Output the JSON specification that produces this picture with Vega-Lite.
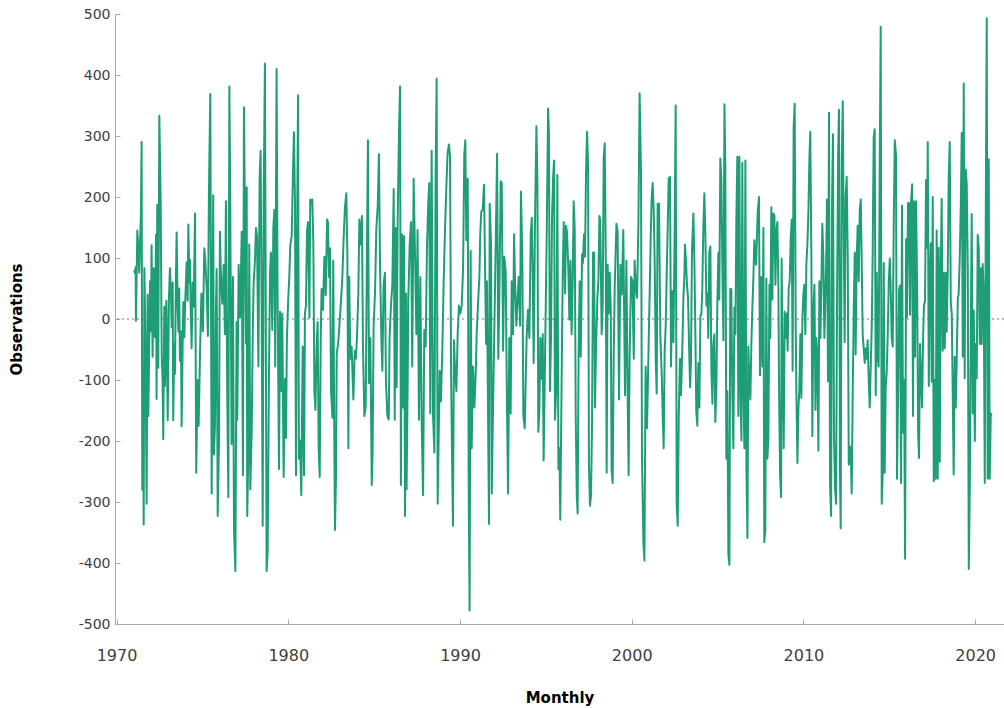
{
"$schema": "https://vega.github.io/schema/vega-lite/v6.json",
"width": 889, "height": 610,
"autosize": {"type": "none"},
"padding": {"left": 115, "top": 14, "right": 0, "bottom": 84},
"background": "white",
"config": {"view": {"stroke": null}, "axis": {"grid": false, "domainColor": "#aaaaaa", "tickColor": "#aaaaaa", "labelFont": "DejaVu Sans", "titleFont": "DejaVu Sans", "labelColor": "#404040", "titleColor": "#000000"}},
"datasets": {"obs": [
{"t":1971.03,"v":80},{"t":1971.07,"v":75},{"t":1971.11,"v":85},{"t":1971.13,"v":-3},{"t":1971.21,"v":145},{"t":1971.27,"v":117},{"t":1971.32,"v":76},{"t":1971.42,"v":173},{"t":1971.46,"v":290},{"t":1971.50,"v":-280},{"t":1971.54,"v":-100},{"t":1971.58,"v":-337},{"t":1971.62,"v":83},{"t":1971.69,"v":-50},{"t":1971.75,"v":-303},{"t":1971.81,"v":40},{"t":1971.85,"v":-159},{"t":1971.95,"v":62},{"t":1972.00,"v":-20},{"t":1972.04,"v":121},{"t":1972.10,"v":-62},{"t":1972.16,"v":83},{"t":1972.24,"v":-30},{"t":1972.30,"v":138},{"t":1972.33,"v":-131},{"t":1972.37,"v":187},{"t":1972.43,"v":-80},{"t":1972.49,"v":333},{"t":1972.57,"v":193},{"t":1972.63,"v":-60},{"t":1972.68,"v":-100},{"t":1972.72,"v":-197},{"t":1972.78,"v":20},{"t":1972.82,"v":-110},{"t":1972.90,"v":30},{"t":1972.98,"v":-166},{"t":1973.05,"v":35},{"t":1973.11,"v":83},{"t":1973.17,"v":40},{"t":1973.21,"v":-14},{"t":1973.27,"v":60},{"t":1973.30,"v":-166},{"t":1973.36,"v":-40},{"t":1973.40,"v":-90},{"t":1973.46,"v":70},{"t":1973.50,"v":142},{"t":1973.56,"v":20},{"t":1973.60,"v":-21},{"t":1973.65,"v":50},{"t":1973.69,"v":-69},{"t":1973.75,"v":-20},{"t":1973.79,"v":-176},{"t":1973.85,"v":-40},{"t":1973.89,"v":28},{"t":1973.95,"v":-30},{"t":1973.98,"v":14},{"t":1974.04,"v":60},{"t":1974.08,"v":93},{"t":1974.14,"v":30},{"t":1974.18,"v":155},{"t":1974.24,"v":60},{"t":1974.28,"v":97},{"t":1974.31,"v":28},{"t":1974.37,"v":-48},{"t":1974.43,"v":60},{"t":1974.49,"v":20},
{"t":1974.57,"v":173},{"t":1974.64,"v":-252},{"t":1974.72,"v":-100},{"t":1974.78,"v":-175},{"t":1974.86,"v":-58},{"t":1974.94,"v":42},{"t":1975.03,"v":-20},{"t":1975.11,"v":116},{"t":1975.17,"v":96},{"t":1975.25,"v":49},{"t":1975.32,"v":-28},{"t":1975.38,"v":209},{"t":1975.46,"v":369},{"t":1975.54,"v":-286},{"t":1975.60,"v":50},{"t":1975.63,"v":203},{"t":1975.67,"v":-222},{"t":1975.73,"v":-175},{"t":1975.79,"v":20},{"t":1975.83,"v":82},{"t":1975.89,"v":-323},{"t":1975.97,"v":-195},{"t":1976.02,"v":143},{"t":1976.08,"v":69},{"t":1976.16,"v":25},{"t":1976.24,"v":89},{"t":1976.31,"v":-25},{"t":1976.37,"v":193},{"t":1976.45,"v":-135},{"t":1976.51,"v":-292},{"t":1976.57,"v":381},{"t":1976.62,"v":196},{"t":1976.70,"v":-205},{"t":1976.78,"v":69},{"t":1976.84,"v":-346},{"t":1976.92,"v":-413},{"t":1976.99,"v":-5},{"t":1977.03,"v":-165},{"t":1977.11,"v":89},{"t":1977.19,"v":2},{"t":1977.29,"v":143},{"t":1977.36,"v":-256},{"t":1977.42,"v":347},{"t":1977.48,"v":156},{"t":1977.54,"v":-40},{"t":1977.58,"v":216},{"t":1977.61,"v":-323},{"t":1977.67,"v":-229},{"t":1977.73,"v":122},{"t":1977.79,"v":-279},{"t":1977.87,"v":-185},{"t":1977.93,"v":-28},{"t":1977.98,"v":56},{"t":1978.06,"v":96},{"t":1978.12,"v":149},{"t":1978.18,"v":136},{"t":1978.26,"v":-78},{"t":1978.33,"v":226},{"t":1978.39,"v":276},{"t":1978.45,"v":19},{"t":1978.51,"v":-339},{"t":1978.57,"v":203},
{"t":1978.64,"v":419},{"t":1978.74,"v":-413},{"t":1978.80,"v":-380},{"t":1978.88,"v":-78},{"t":1978.94,"v":76},{"t":1978.99,"v":109},{"t":1979.07,"v":-18},{"t":1979.13,"v":149},{"t":1979.19,"v":179},{"t":1979.24,"v":-78},{"t":1979.32,"v":410},{"t":1979.38,"v":29},{"t":1979.46,"v":-246},{"t":1979.52,"v":12},{"t":1979.60,"v":-118},{"t":1979.65,"v":9},{"t":1979.73,"v":-259},{"t":1979.81,"v":-98},{"t":1979.87,"v":-195},{"t":1979.92,"v":-31},{"t":1980.00,"v":35},{"t":1980.06,"v":69},{"t":1980.12,"v":122},{"t":1980.20,"v":136},{"t":1980.27,"v":236},{"t":1980.33,"v":306},{"t":1980.39,"v":196},{"t":1980.45,"v":-256},{"t":1980.51,"v":132},{"t":1980.57,"v":367},{"t":1980.62,"v":-229},{"t":1980.68,"v":-199},{"t":1980.76,"v":-289},{"t":1980.84,"v":-45},{"t":1980.92,"v":-256},{"t":1980.97,"v":9},{"t":1981.03,"v":22},{"t":1981.09,"v":143},{"t":1981.15,"v":159},{"t":1981.23,"v":2},{"t":1981.28,"v":196},{"t":1981.34,"v":189},{"t":1981.40,"v":196},{"t":1981.46,"v":122},{"t":1981.52,"v":-118},{"t":1981.58,"v":-149},{"t":1981.65,"v":-45},{"t":1981.71,"v":-5},{"t":1981.77,"v":-212},{"t":1981.83,"v":-259},{"t":1981.89,"v":-31},{"t":1981.94,"v":49},{"t":1982.02,"v":15},{"t":1982.10,"v":102},{"t":1982.18,"v":39},{"t":1982.26,"v":163},{"t":1982.31,"v":159},{"t":1982.37,"v":69},{"t":1982.43,"v":116},{"t":1982.49,"v":-118},{"t":1982.57,"v":-162},{"t":1982.62,"v":96},{"t":1982.68,"v":-192},
{"t":1982.72,"v":-346},{"t":1982.78,"v":-256},{"t":1982.82,"v":-58},{"t":1982.91,"v":-38},{"t":1982.99,"v":-5},{"t":1983.07,"v":29},{"t":1983.15,"v":69},{"t":1983.22,"v":129},{"t":1983.30,"v":183},{"t":1983.38,"v":206},{"t":1983.44,"v":109},{"t":1983.50,"v":-212},{"t":1983.55,"v":69},{"t":1983.61,"v":-65},{"t":1983.69,"v":-45},{"t":1983.79,"v":-132},{"t":1983.87,"v":-52},{"t":1983.94,"v":-65},{"t":1984.00,"v":-31},{"t":1984.08,"v":42},{"t":1984.14,"v":163},{"t":1984.22,"v":122},{"t":1984.29,"v":169},{"t":1984.35,"v":-45},{"t":1984.43,"v":-159},{"t":1984.51,"v":-145},{"t":1984.58,"v":109},{"t":1984.64,"v":293},{"t":1984.70,"v":-105},{"t":1984.78,"v":-31},{"t":1984.86,"v":-272},{"t":1984.91,"v":-219},{"t":1984.97,"v":-11},{"t":1985.05,"v":42},{"t":1985.13,"v":149},{"t":1985.21,"v":186},{"t":1985.28,"v":270},{"t":1985.34,"v":96},{"t":1985.42,"v":-31},{"t":1985.48,"v":-85},{"t":1985.55,"v":56},{"t":1985.63,"v":76},{"t":1985.69,"v":-105},{"t":1985.77,"v":-159},{"t":1985.85,"v":-165},{"t":1985.90,"v":-31},{"t":1985.98,"v":22},{"t":1986.06,"v":56},{"t":1986.14,"v":213},{"t":1986.20,"v":-165},{"t":1986.25,"v":149},{"t":1986.31,"v":-112},{"t":1986.37,"v":159},{"t":1986.45,"v":310},{"t":1986.51,"v":381},{"t":1986.56,"v":-272},{"t":1986.62,"v":139},{"t":1986.68,"v":-145},{"t":1986.74,"v":136},
{"t":1986.80,"v":-323},{"t":1986.86,"v":42},{"t":1986.89,"v":-279},{"t":1986.95,"v":-112},{"t":1986.99,"v":29},{"t":1987.07,"v":122},{"t":1987.15,"v":159},{"t":1987.22,"v":-78},{"t":1987.30,"v":230},{"t":1987.38,"v":109},{"t":1987.46,"v":-25},{"t":1987.53,"v":146},{"t":1987.61,"v":-165},{"t":1987.69,"v":69},{"t":1987.77,"v":-172},{"t":1987.85,"v":-289},{"t":1987.92,"v":-18},{"t":1988.00,"v":-45},{"t":1988.08,"v":122},{"t":1988.16,"v":196},{"t":1988.21,"v":223},{"t":1988.27,"v":-155},{"t":1988.35,"v":276},{"t":1988.43,"v":-159},{"t":1988.51,"v":-219},{"t":1988.58,"v":233},{"t":1988.64,"v":394},{"t":1988.70,"v":-303},{"t":1988.76,"v":-192},{"t":1988.82,"v":-85},{"t":1988.89,"v":-135},{"t":1988.97,"v":-52},{"t":1989.05,"v":62},{"t":1989.13,"v":149},{"t":1989.21,"v":220},{"t":1989.28,"v":273},{"t":1989.36,"v":286},{"t":1989.42,"v":266},{"t":1989.48,"v":-85},{"t":1989.535,"v":-219},{"t":1989.59,"v":-339},{"t":1989.65,"v":-35},{"t":1989.71,"v":-82},{"t":1989.79,"v":-118},{"t":1989.865,"v":-25},{"t":1989.94,"v":22},{"t":1990.02,"v":9},{"t":1990.10,"v":22},{"t":1990.18,"v":82},{"t":1990.25,"v":270},{"t":1990.31,"v":293},{"t":1990.37,"v":129},{"t":1990.45,"v":230},{"t":1990.51,"v":-292},{"t":1990.56,"v":-478},{"t":1990.62,"v":112},{"t":1990.68,"v":-212},{"t":1990.76,"v":-78},{"t":1990.84,"v":-145},
{"t":1990.93,"v":-78},{"t":1990.97,"v":-25},{"t":1991.05,"v":25},{"t":1991.13,"v":69},{"t":1991.18,"v":139},{"t":1991.24,"v":176},{"t":1991.32,"v":179},{"t":1991.40,"v":220},{"t":1991.46,"v":82},{"t":1991.52,"v":-41},{"t":1991.57,"v":62},{"t":1991.65,"v":-212},{"t":1991.69,"v":-336},{"t":1991.73,"v":189},{"t":1991.81,"v":122},{"t":1991.85,"v":-286},{"t":1991.92,"v":-152},{"t":1992.00,"v":-18},{"t":1992.08,"v":122},{"t":1992.16,"v":271},{"t":1992.23,"v":-65},{"t":1992.29,"v":35},{"t":1992.37,"v":226},{"t":1992.43,"v":223},{"t":1992.51,"v":-52},{"t":1992.58,"v":102},{"t":1992.66,"v":79},{"t":1992.74,"v":-152},{"t":1992.80,"v":-286},{"t":1992.87,"v":-31},{"t":1992.95,"v":-155},{"t":1993.01,"v":62},{"t":1993.09,"v":-25},{"t":1993.15,"v":139},{"t":1993.20,"v":69},{"t":1993.28,"v":-11},{"t":1993.36,"v":35},{"t":1993.42,"v":69},{"t":1993.50,"v":-11},{"t":1993.55,"v":209},{"t":1993.63,"v":102},{"t":1993.69,"v":-159},{"t":1993.77,"v":-179},{"t":1993.83,"v":-98},{"t":1993.88,"v":-31},{"t":1993.96,"v":15},{"t":1994.04,"v":-31},{"t":1994.12,"v":139},{"t":1994.18,"v":166},{"t":1994.23,"v":86},{"t":1994.29,"v":-72},{"t":1994.37,"v":163},{"t":1994.45,"v":316},{"t":1994.51,"v":223},{"t":1994.56,"v":-185},{"t":1994.62,"v":-152},{"t":1994.68,"v":-31},{"t":1994.74,"v":-98},{"t":1994.82,"v":-25},{"t":1994.87,"v":-232},
{"t":1995.05,"v":136},{"t":1995.13,"v":345},{"t":1995.18,"v":303},{"t":1995.24,"v":-118},{"t":1995.30,"v":-31},{"t":1995.36,"v":166},{"t":1995.42,"v":230},{"t":1995.48,"v":260},{"t":1995.53,"v":-165},{"t":1995.61,"v":-112},{"t":1995.67,"v":236},{"t":1995.73,"v":-246},{"t":1995.79,"v":-212},{"t":1995.84,"v":-329},{"t":1995.92,"v":-95},{"t":1995.98,"v":69},{"t":1996.04,"v":159},{"t":1996.12,"v":42},{"t":1996.17,"v":153},{"t":1996.23,"v":143},{"t":1996.31,"v":82},{"t":1996.37,"v":-1},{"t":1996.43,"v":96},{"t":1996.50,"v":-25},{"t":1996.56,"v":56},{"t":1996.62,"v":193},{"t":1996.68,"v":149},{"t":1996.74,"v":-159},{"t":1996.80,"v":-289},{"t":1996.85,"v":-319},{"t":1996.91,"v":-52},{"t":1996.97,"v":62},{"t":1997.03,"v":-62},{"t":1997.11,"v":106},{"t":1997.16,"v":92},{"t":1997.22,"v":139},{"t":1997.28,"v":102},{"t":1997.34,"v":240},{"t":1997.40,"v":307},{"t":1997.46,"v":250},{"t":1997.51,"v":-239},{"t":1997.57,"v":-306},{"t":1997.63,"v":-289},{"t":1997.69,"v":-172},{"t":1997.75,"v":109},{"t":1997.81,"v":109},{"t":1997.86,"v":-145},{"t":1997.92,"v":-52},{"t":1998.00,"v":35},{"t":1998.06,"v":62},{"t":1998.12,"v":169},{"t":1998.17,"v":159},{"t":1998.25,"v":-25},{"t":1998.31,"v":22},{"t":1998.37,"v":266},{"t":1998.43,"v":288},{"t":1998.49,"v":96},{"t":1998.54,"v":-252},{"t":1998.60,"v":89},{"t":1998.66,"v":9},{"t":1998.72,"v":76},{"t":1998.78,"v":15},{"t":1998.83,"v":-246},{"t":1998.89,"v":-269},{"t":1998.95,"v":-65},{"t":1999.01,"v":52},
{"t":1999.11,"v":156},{"t":1999.18,"v":143},{"t":1999.26,"v":-132},{"t":1999.34,"v":89},{"t":1999.42,"v":40},{"t":1999.51,"v":146},{"t":1999.61,"v":-125},{"t":1999.69,"v":96},{"t":1999.77,"v":-145},{"t":1999.82,"v":-256},{"t":1999.88,"v":-58},{"t":1999.96,"v":69},{"t":2000.04,"v":62},{"t":2000.12,"v":-65},{"t":2000.17,"v":96},{"t":2000.23,"v":56},{"t":2000.31,"v":35},{"t":2000.39,"v":156},{"t":2000.46,"v":370},{"t":2000.54,"v":240},{"t":2000.60,"v":-229},{"t":2000.68,"v":-366},{"t":2000.74,"v":-396},{"t":2000.81,"v":-78},{"t":2000.89,"v":-179},{"t":2000.97,"v":-65},{"t":2001.05,"v":49},{"t":2001.11,"v":139},{"t":2001.16,"v":196},{"t":2001.22,"v":223},{"t":2001.28,"v":179},{"t":2001.34,"v":89},{"t":2001.40,"v":-68},{"t":2001.455,"v":-122},{"t":2001.51,"v":189},{"t":2001.59,"v":189},{"t":2001.67,"v":-31},{"t":2001.75,"v":-92},{"t":2001.80,"v":-152},{"t":2001.86,"v":-212},{"t":2001.92,"v":-52},{"t":2001.98,"v":-11},{"t":2002.04,"v":76},{"t":2002.10,"v":156},{"t":2002.155,"v":230},{"t":2002.23,"v":233},{"t":2002.29,"v":-78},{"t":2002.35,"v":46},{"t":2002.43,"v":-38},{"t":2002.50,"v":139},{"t":2002.56,"v":350},{"t":2002.62,"v":-306},{"t":2002.68,"v":-339},{"t":2002.74,"v":-159},{"t":2002.81,"v":-65},{"t":2002.87,"v":-125},{"t":2002.95,"v":-45},{"t":2003.01,"v":35},{"t":2003.07,"v":72},
{"t":2003.10,"v":122},{"t":2003.16,"v":96},{"t":2003.22,"v":56},{"t":2003.28,"v":35},{"t":2003.34,"v":-45},{"t":2003.40,"v":-112},{"t":2003.45,"v":-72},{"t":2003.51,"v":112},{"t":2003.59,"v":173},{"t":2003.65,"v":96},{"t":2003.71,"v":-28},{"t":2003.76,"v":-152},{"t":2003.82,"v":-175},{"t":2003.88,"v":-72},{"t":2003.94,"v":-145},{"t":2004.00,"v":5},{"t":2004.06,"v":9},{"t":2004.11,"v":49},{"t":2004.17,"v":149},{"t":2004.23,"v":206},{"t":2004.29,"v":136},{"t":2004.35,"v":22},{"t":2004.41,"v":42},{"t":2004.46,"v":-31},{"t":2004.52,"v":109},{"t":2004.58,"v":119},{"t":2004.64,"v":-85},{"t":2004.70,"v":-139},{"t":2004.75,"v":-45},{"t":2004.81,"v":-25},{"t":2004.87,"v":-169},{"t":2004.93,"v":-112},{"t":2004.99,"v":32},{"t":2005.05,"v":109},{"t":2005.10,"v":32},{"t":2005.16,"v":263},{"t":2005.22,"v":230},{"t":2005.28,"v":82},{"t":2005.34,"v":-35},{"t":2005.40,"v":352},{"t":2005.45,"v":250},{"t":2005.51,"v":-229},{"t":2005.57,"v":-118},{"t":2005.63,"v":-386},{"t":2005.69,"v":-403},{"t":2005.74,"v":49},{"t":2005.80,"v":49},{"t":2005.86,"v":-125},{"t":2005.92,"v":-212},{"t":2005.98,"v":19},{"t":2006.04,"v":-25},{"t":2006.09,"v":156},{"t":2006.15,"v":266},{"t":2006.21,"v":-159},{"t":2006.27,"v":266},{"t":2006.33,"v":-118},{"t":2006.39,"v":-199},{"t":2006.44,"v":256},{"t":2006.50,"v":-98},{"t":2006.56,"v":-212},{"t":2006.62,"v":260},{"t":2006.68,"v":-246},{"t":2006.74,"v":-359},{"t":2006.79,"v":-45},{"t":2006.85,"v":-98},{"t":2006.91,"v":-132},{"t":2006.97,"v":-38},{"t":2007.03,"v":22},{"t":2007.08,"v":62},{"t":2007.14,"v":129},
{"t":2007.24,"v":89},{"t":2007.34,"v":176},{"t":2007.41,"v":200},{"t":2007.47,"v":-92},{"t":2007.53,"v":69},{"t":2007.61,"v":-78},{"t":2007.67,"v":149},{"t":2007.72,"v":-366},{"t":2007.78,"v":-346},{"t":2007.84,"v":66},{"t":2007.90,"v":-229},{"t":2007.96,"v":-192},{"t":2008.02,"v":56},{"t":2008.07,"v":-31},{"t":2008.13,"v":183},{"t":2008.19,"v":32},{"t":2008.25,"v":173},{"t":2008.31,"v":169},{"t":2008.37,"v":56},{"t":2008.42,"v":143},{"t":2008.48,"v":159},{"t":2008.54,"v":56},{"t":2008.58,"v":-112},{"t":2008.64,"v":-256},{"t":2008.70,"v":-292},{"t":2008.73,"v":99},{"t":2008.79,"v":-78},{"t":2008.85,"v":-212},{"t":2008.91,"v":12},{"t":2008.97,"v":-31},{"t":2009.03,"v":9},{"t":2009.08,"v":-52},{"t":2009.14,"v":49},{"t":2009.20,"v":62},{"t":2009.26,"v":132},{"t":2009.32,"v":163},{"t":2009.37,"v":-85},{"t":2009.43,"v":313},{"t":2009.49,"v":353},{"t":2009.55,"v":-11},{"t":2009.59,"v":-122},{"t":2009.65,"v":-236},{"t":2009.71,"v":-145},{"t":2009.76,"v":-118},{"t":2009.82,"v":-25},{"t":2009.88,"v":-129},{"t":2009.94,"v":2},{"t":2010.00,"v":42},{"t":2010.05,"v":56},{"t":2010.11,"v":-25},{"t":2010.17,"v":89},{"t":2010.23,"v":122},{"t":2010.29,"v":176},{"t":2010.35,"v":266},{"t":2010.40,"v":307},{"t":2010.46,"v":109},{"t":2010.52,"v":-192},{"t":2010.58,"v":15},{"t":2010.64,"v":56},{"t":2010.70,"v":-149},{"t":2010.75,"v":-31},{"t":2010.81,"v":-58},{"t":2010.87,"v":-216},{"t":2010.93,"v":62},{"t":2010.99,"v":-31},{"t":2011.05,"v":62},{"t":2011.10,"v":156},{"t":2011.16,"v":102},{"t":2011.22,"v":-31},
{"t":2011.32,"v":82},{"t":2011.37,"v":196},{"t":2011.43,"v":-102},{"t":2011.49,"v":338},{"t":2011.55,"v":-272},{"t":2011.61,"v":-323},{"t":2011.67,"v":203},{"t":2011.72,"v":303},{"t":2011.78,"v":-192},{"t":2011.84,"v":-276},{"t":2011.90,"v":-303},{"t":2011.96,"v":42},{"t":2012.02,"v":270},{"t":2012.07,"v":343},{"t":2012.13,"v":-252},{"t":2012.17,"v":-343},{"t":2012.23,"v":256},{"t":2012.29,"v":357},{"t":2012.35,"v":129},{"t":2012.40,"v":-38},{"t":2012.46,"v":200},{"t":2012.52,"v":233},{"t":2012.58,"v":102},{"t":2012.64,"v":-239},{"t":2012.70,"v":-209},{"t":2012.75,"v":-212},{"t":2012.81,"v":-286},{"t":2012.87,"v":-122},{"t":2012.93,"v":19},{"t":2012.99,"v":109},{"t":2013.04,"v":-58},{"t":2013.10,"v":96},{"t":2013.16,"v":153},{"t":2013.22,"v":62},{"t":2013.28,"v":179},{"t":2013.34,"v":196},{"t":2013.39,"v":102},{"t":2013.45,"v":-25},{"t":2013.51,"v":-48},{"t":2013.57,"v":-72},{"t":2013.63,"v":-48},{"t":2013.685,"v":-65},{"t":2013.74,"v":-35},{"t":2013.80,"v":-98},{"t":2013.86,"v":-145},{"t":2013.92,"v":-78},{"t":2013.98,"v":-8},{"t":2014.03,"v":99},{"t":2014.09,"v":297},{"t":2014.15,"v":311},{"t":2014.21,"v":-125},{"t":2014.27,"v":76},{"t":2014.33,"v":-65},{"t":2014.38,"v":-78},{"t":2014.44,"v":243},{"t":2014.50,"v":479},{"t":2014.56,"v":-303},{"t":2014.62,"v":-252},{"t":2014.68,"v":92},{"t":2014.73,"v":-252},{"t":2014.79,"v":-112},{"t":2014.85,"v":-88},{"t":2014.91,"v":-25},{"t":2014.97,"v":62},{"t":2015.03,"v":99},{"t":2015.08,"v":56},{"t":2015.14,"v":-31},{"t":2015.20,"v":-45},{"t":2015.26,"v":159},{"t":2015.32,"v":293},
{"t":2015.39,"v":269},{"t":2015.45,"v":-262},{"t":2015.51,"v":-131},{"t":2015.57,"v":48},{"t":2015.63,"v":55},{"t":2015.685,"v":-269},{"t":2015.74,"v":186},{"t":2015.80,"v":-186},{"t":2015.86,"v":-100},{"t":2015.92,"v":-393},{"t":2015.98,"v":131},{"t":2016.03,"v":3},{"t":2016.09,"v":190},{"t":2016.15,"v":190},{"t":2016.21,"v":7},{"t":2016.27,"v":193},{"t":2016.33,"v":221},{"t":2016.38,"v":-159},{"t":2016.44,"v":193},{"t":2016.50,"v":-62},{"t":2016.56,"v":193},{"t":2016.62,"v":55},{"t":2016.68,"v":-186},{"t":2016.73,"v":-228},{"t":2016.79,"v":-41},{"t":2016.85,"v":-97},{"t":2016.91,"v":-145},{"t":2016.97,"v":-28},{"t":2017.02,"v":24},{"t":2017.08,"v":28},{"t":2017.14,"v":228},{"t":2017.20,"v":117},{"t":2017.24,"v":290},{"t":2017.30,"v":-110},{"t":2017.35,"v":55},{"t":2017.41,"v":124},{"t":2017.47,"v":-103},{"t":2017.53,"v":200},{"t":2017.59,"v":-266},{"t":2017.65,"v":-100},{"t":2017.70,"v":-262},{"t":2017.76,"v":145},{"t":2017.82,"v":-262},{"t":2017.88,"v":117},{"t":2017.94,"v":-234},{"t":2017.995,"v":69},{"t":2018.05,"v":197},{"t":2018.11,"v":-52},{"t":2018.17,"v":76},{"t":2018.23,"v":-48},{"t":2018.29,"v":76},{"t":2018.34,"v":-21},{"t":2018.40,"v":69},{"t":2018.46,"v":231},{"t":2018.52,"v":290},{"t":2018.58,"v":28},{"t":2018.64,"v":7},{"t":2018.69,"v":-114},{"t":2018.75,"v":-255},{"t":2018.81,"v":-62},{"t":2018.87,"v":-145},{"t":2018.93,"v":-62},{"t":2018.99,"v":34},{"t":2019.04,"v":41},{"t":2019.10,"v":97},{"t":2019.16,"v":179},{"t":2019.22,"v":305},{"t":2019.28,"v":-62},{"t":2019.335,"v":386},{"t":2019.39,"v":-97},{"t":2019.45,"v":245},{"t":2019.51,"v":221},{"t":2019.57,"v":83},{"t":2019.63,"v":-410},{"t":2019.685,"v":-283},{"t":2019.74,"v":-48},{"t":2019.80,"v":172},{"t":2019.86,"v":-155},{"t":2019.92,"v":14},{"t":2019.98,"v":-200},{"t":2020.03,"v":-41},{"t":2020.09,"v":-97},{"t":2020.15,"v":138},{"t":2020.21,"v":117},{"t":2020.27,"v":-41},{"t":2020.33,"v":83},{"t":2020.38,"v":-41},{"t":2020.44,"v":90},{"t":2020.50,"v":41},{"t":2020.56,"v":-269},{"t":2020.62,"v":179},{"t":2020.675,"v":493},{"t":2020.73,"v":-262},{"t":2020.79,"v":262},{"t":2020.85,"v":-262},{"t":2020.91,"v":-155},{"t":2020.95,"v":-159}
]},
"layer": [
{"data": {"values": [{}]},
 "mark": {"type": "rule", "stroke": "#777777", "strokeDash": [2, 3], "strokeWidth": 1},
 "encoding": {"y": {"datum": 0, "type": "quantitative"}}},
{"data": {"name": "obs"},
 "mark": {"type": "line", "stroke": "#1e9e77", "strokeWidth": 2, "strokeJoin": "round"},
 "encoding": {
  "x": {"field": "t", "type": "quantitative",
        "scale": {"domain": [1969.91, 2021.68], "nice": false, "zero": false},
        "axis": {"values": [1970, 1980, 1990, 2000, 2010, 2020], "format": "d", "title": "Monthly",
                 "tickSize": -5, "labelPadding": 28, "labelFontSize": 16, "titleFontSize": 15, "titleFontWeight": "bold", "titlePadding": 27}},
  "y": {"field": "v", "type": "quantitative",
        "scale": {"domain": [-500, 500], "nice": false, "zero": false},
        "axis": {"values": [-500, -400, -300, -200, -100, 0, 100, 200, 300, 400, 500], "labelExpr": "'' + datum.value", "title": "Observations",
                 "tickSize": -5, "labelPadding": 10, "labelFontSize": 14, "titleFontSize": 15, "titleFontWeight": "bold", "titlePadding": 54}}
 }}
]
}
